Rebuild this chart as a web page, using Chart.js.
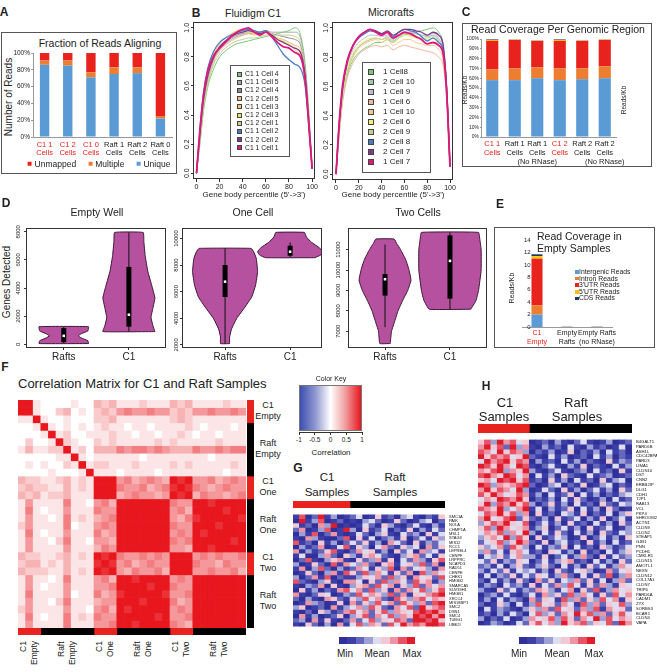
<!DOCTYPE html>
<html>
<head>
<meta charset="utf-8">
<title>Figure</title>
<script src="https://cdn.jsdelivr.net/npm/chart.js@4.4.1/dist/chart.umd.min.js"></script>
<style>
  body { margin: 0; background: #fff; }
  #page { position: relative; width: 657px; height: 672px; overflow: hidden; font-family: 'Liberation Sans', Arial, sans-serif; color: #222; }
  #page canvas { position: absolute; }
  .t { position: absolute; white-space: nowrap; line-height: 1; }
  .frame { position: absolute; border: 1px solid #555; box-sizing: border-box; }
</style>
</head>
<body>
<div id="page"></div>
<script>
// ---------- A: fraction of reads aligning ----------
const alignCats = [['C1 1', 'Cells'], ['C1 2', 'Cells'], ['C1 0', 'Cells'], ['Raft 1', 'Cells'], ['Raft 2', 'Cells'], ['Raft 0', 'Cells']];
const alignNames = ['Unmapped', 'Multiple', 'Unique'];
const alignUnmapped = [9, 9, 23, 17, 17, 75];
const alignMultiple = [5, 6, 6, 8, 7, 3];
const alignUnique = [86, 85, 71, 75, 76, 22];
const percentTicks = [0, 10, 20, 30, 40, 50, 60, 70, 80, 90, 100];

// ---------- B: gene body coverage ----------
const bodyPct = [0, 3, 6, 10, 15, 20, 25, 30, 35, 40, 45, 50, 55, 60, 65, 70, 75, 80, 85, 90, 94, 97, 100];
const pctTicks = [0, 20, 40, 60, 80, 100];
const coverTicks = [0, 0.2, 0.4, 0.6, 0.8, 1.0];
const c1Names = ['C1 1 Cell 4', 'C1 1 Cell 5', 'C1 2 Cell 4', 'C1 2 Cell 5', 'C1 1 Cell 3', 'C1 2 Cell 3', 'C1 2 Cell 1', 'C1 1 Cell 2', 'C1 2 Cell 2', 'C1 1 Cell 1'];
const c1Curves = [
  [0, .2, .42, .6, .72, .8, .84, .87, .89, .9, .91, .92, .93, .94, .95, .96, .97, .98, 1.0, .95, .75, .45, .03],
  [0, .25, .47, .65, .78, .85, .89, .92, .94, .95, .96, .96, .97, .98, .97, .97, .97, .97, .97, .93, .72, .4, .03],
  [0, .26, .48, .66, .79, .86, .9, .93, .95, .96, .97, .96, .97, .98, .96, .95, .94, .93, .92, .88, .7, .38, .03],
  [0, .24, .46, .64, .77, .84, .88, .91, .93, .95, .96, .95, .96, .97, .95, .93, .92, .9, .88, .85, .68, .38, .03],
  [0, .28, .52, .7, .82, .89, .93, .96, .98, .99, .98, .96, .97, .98, .96, .93, .9, .88, .85, .8, .65, .36, .03],
  [0, .27, .5, .68, .8, .87, .91, .94, .96, .97, .97, .96, .96, .97, .95, .93, .91, .89, .87, .82, .66, .37, .03],
  [0, .22, .44, .62, .75, .82, .86, .89, .91, .92, .93, .93, .94, .95, .95, .95, .95, .95, .94, .9, .7, .4, .03],
  [0, .3, .55, .73, .84, .9, .93, .95, .97, .98, .99, .98, .97, .98, .94, .88, .82, .78, .75, .72, .6, .34, .03],
  [0, .27, .5, .68, .8, .87, .91, .94, .96, .97, .98, .97, .96, .97, .95, .92, .9, .88, .86, .83, .67, .37, .03],
  [0, .3, .53, .71, .81, .86, .9, .94, .97, .99, 1.0, .97, .95, .97, .94, .9, .87, .86, .83, .8, .64, .35, .03]
];
const raftNames = ['1 Cell8', '2 Cell 10', '1 Cell 9', '1 Cell 6', '1 Cell 10', '2 Cell 6', '2 Cell 9', '2 Cell 8', '2 Cell 7', '1 Cell 7'];
const raftCurves = [
  [0, .3, .52, .68, .78, .83, .86, .88, .9, .9, .92, .9, .93, .95, .96, .97, .98, .99, 1.0, .97, .88, .6, .05],
  [0, .32, .55, .72, .82, .87, .9, .92, .93, .92, .94, .91, .94, .96, .96, .96, .95, .94, .95, .92, .84, .58, .05],
  [0, .33, .57, .74, .85, .9, .93, .95, .95, .94, .95, .92, .95, .97, .97, .96, .95, .95, .96, .93, .85, .58, .05],
  [0, .28, .5, .66, .76, .82, .85, .87, .88, .87, .88, .85, .87, .88, .87, .86, .85, .84, .83, .8, .74, .52, .05],
  [0, .3, .53, .7, .8, .86, .89, .91, .92, .9, .92, .88, .9, .92, .92, .9, .89, .88, .88, .85, .78, .55, .05],
  [0, .31, .55, .72, .83, .88, .91, .93, .93, .92, .93, .9, .93, .95, .94, .93, .92, .92, .93, .9, .82, .57, .05],
  [0, .3, .53, .7, .81, .87, .9, .92, .93, .92, .93, .9, .93, .96, .95, .94, .93, .93, .94, .91, .83, .57, .05],
  [0, .36, .6, .77, .88, .93, .96, .98, .97, .96, .97, .94, .97, .99, .98, .97, .94, .91, .93, .9, .84, .58, .05],
  [0, .36, .6, .77, .88, .94, .97, .99, .98, .96, .98, .95, .97, .99, .99, .98, .97, .95, .97, .95, .88, .6, .05],
  [0, .37, .62, .78, .88, .94, .97, .99, .97, .95, .97, .93, .95, .97, .96, .94, .92, .89, .9, .88, .82, .56, .05]
];

// ---------- C / E: read coverage per genomic region ----------
const regionNames = ['Intergenic Reads', 'Intron Reads', "3'UTR Reads", "5'UTR Reads", 'CDS Reads'];
const regionCats = [['C1 1', 'Cells'], ['Raft 1', 'Cells'], ['Raft 1', 'Cells', '(No RNase)'], ['C1 2', 'Cells'], ['Raft 2', 'Cells'], ['Raft 2', 'Cells', '(No RNase)']];
const regionIntergenic = [58, 58, 60, 58, 59, 60];
const regionIntron = [11, 12, 11, 12, 11, 12];
const region3utr = [29, 29, 27, 28, 28, 27];
const region5utr = [1, 0.3, 0.3, 1, 0.3, 0.3];
const regionCds = [0.6, 0.3, 0.3, 0.6, 0.3, 0.3];
const emptyCats = [['C1', 'Empty'], ['Empty', 'Rafts'], ['Empty Rafts', '(no RNase)']];
const emptyIntergenic = [2.0, 0.03, 0.04];
const emptyIntron = [1.5, 0.01, 0.01];
const empty3utr = [7.5, 0.03, 0.03];
const empty5utr = [0.4, 0, 0];
const emptyCds = [0.3, 0.01, 0.01];
const readsTicks = [0, 2, 4, 6, 8, 10, 12, 14];

// ---------- D: genes detected (violins: [genes, half width]) ----------
const violinCats = ['Rafts', 'C1'];
const emptyRaftsShape = [[50, .38], [250, .37], [450, .27], [600, .22], [750, .27], [950, .37], [1250, .38]];
const emptyRaftsStats = [50, 150, 600, 1150, 1250];
const emptyC1Shape = [[900, .4], [1300, .37], [1900, .34], [2600, .37], [3300, .4], [4200, .35], [5200, .29], [6300, .25], [7300, .23], [7950, .22]];
const emptyC1Stats = [900, 1250, 2100, 5500, 7950];
const oneRaftsShape = [[2100, .07], [2600, .07], [3200, .1], [4000, .18], [4800, .3], [5600, .41], [6500, .47], [7500, .5], [8500, .48], [9000, .44], [9250, .4]];
const oneRaftsStats = [2100, 5600, 6750, 8000, 9250];
const oneC1Shape = [[8550, .38], [8750, .47], [9000, .5], [9300, .45], [9700, .33], [10100, .25], [10450, .22]];
const oneC1Stats = [8600, 8700, 9000, 9450, 9700];
const twoRaftsShape = [[6400, .08], [7000, .1], [7500, .15], [8000, .2], [8500, .27], [9000, .35], [9500, .4], [10000, .37], [10500, .32], [11000, .24], [11300, .18], [11520, .14]];
const twoRaftsStats = [7200, 8750, 9550, 9800, 11250];
const twoC1Shape = [[8080, .32], [8500, .4], [9000, .44], [10000, .48], [11000, .48], [11500, .46], [11845, .44]];
const twoC1Stats = [8080, 8600, 10450, 11700, 11845];
const emptyTicks = [0, 2000, 4000, 6000, 8000];
const oneTicks = [2000, 4000, 6000, 8000, 10000];
const twoTicks = [7000, 8000, 9000, 10000, 11000];

// ---------- F: correlation matrix (0 = none ... 9 = full) ----------
const corrGroups = ['C1 Empty', 'Raft Empty', 'C1 One', 'Raft One', 'C1 Two', 'Raft Two'];
const corrGroupSizes = [3, 7, 3, 7, 3, 7];
const corrRows = [
  '9910000100 323 1112111 323 1111211',
  '9910023010 232 4544544 232 4454454',
  '1191001000 223 1111111 232 1111111',
  '0019101010 121 1011011 112 1011101',
  '0001912001 112 1101101 121 0110111',
  '0200192100 212 1111121 211 1112111',
  '1311229120 333 5455454 333 5445455',
  '0000011910 111 1110111 111 1101111',
  '0101002191 221 1121111 212 1111121',
  '0000100019 111 0111101 111 1111011',
  '3221123121 999 4534543 989 4453454',
  '2322113121 999 5445345 898 5434544',
  '3231223111 999 3454434 989 3544345',
  '1411115110 453 9999999 544 9989999',
  '1510114111 544 9999999 453 9999899',
  '1411015121 345 9999999 435 8999998',
  '2411115011 454 9999999 544 9998999',
  '1510114111 534 9999999 454 9899999',
  '1411025110 443 9999999 545 9999989',
  '1411114111 354 9999999 443 9989999',
  '3221123121 989 5445454 999 4545445',
  '2331213111 898 4534544 999 5443544',
  '3222113121 989 4354453 999 4454453',
  '1411015111 453 9989999 454 9999999',
  '1410114111 445 9999899 544 9999999',
  '1511114011 534 8999998 445 9999999',
  '1411025111 344 9998999 534 9999999',
  '2411114110 453 9899999 454 9999999',
  '1510115121 544 9999989 445 9999999',
  '1411115111 445 9989999 543 9999999'
];

// ---------- G / H: expression heatmaps (0 = min ... 4 = mean ... 8 = max) ----------
const sampleGroups = ['C1', 'Raft'];
const gSamples = [9, 15];
const genesG = ['SMC1A', 'PAIK', 'NOLA', 'CHMP1A', 'MSL1', 'STAG3', 'MIS12', 'RCC1', 'LEPREL4', 'CENPF', 'LRPPRC', 'NCAPD3', 'RAD51', 'CENPE', 'CHEK1', 'HMGB2', 'SMARCA5', 'SUV39H1', 'HMGB1', 'XRCC4', 'MIS18BP1', 'SMC2', 'DSN1', 'SMC4', 'TUBG1', 'UBE2I'];
const heatG = [
  '170281301 240151203410215', '081370120 103420152013402', '512063801 014205310241031', '260137018 305124021503142',
  '031702610 142035104230514', '106310027 051402315024153', '712051302 425130642051324', '031260147 153046215340625',
  '603125710 264513052406341', '140036205 315642103562415', '027103561 052361504263157', '301520716 436205614537260',
  '160372031 264153706245316', '015203617 527364152607364', '302617021 135462735164527', '721035106 640527364275613',
  '103260510 356274615372646', '051302167 462735162647357', '610254013 274653726154678', '203106521 537462175367465',
  '016320150 625374627536278', '350120613 463752164728567', '102053126 746257365478786', '061301250 357264736587868',
  '230615102 624735476288785', '105203061 473652748676887'
];
const hSamples = [8, 16];
const genesH = ['B4GALT1', 'PARD6B', 'ASH1L', 'CDC42BPA', 'PARD3', 'LIMA1', 'CLDN10', 'DST', 'CNN2', 'ERBB2IP', 'DLG1', 'CDH1', 'TJP1', 'RAB13', 'VCL', 'PKP4', 'SHROOM2', 'ACTN1', 'CLDN9', 'CLDN2', 'STEAP1', 'GJB1', 'PNN', 'PCDH1', 'CMKLR1', 'CLDN15', 'AMOTL1', 'NEXN', 'CLDN12', 'COL17A1', 'CLDN7', 'TRIP6', 'PARD6A', 'CADM1', 'ZYX', 'SORBS3', 'BCAR1', 'CLDN4', 'VAPA'];
const heatH = [
  '57386745 0120310241013012', '68572836 1031204103120140', '76485763 0213015021304120', '85767458 2104130120413021',
  '48678576 0312041302105132', '87586487 1024103150210413', '65783658 3102410230412051', '78658746 0413052104123012',
  '56487857 1205130412051340', '87365678 2013402150134021', '68576483 0142051302413052', '75864576 1304125041302134',
  '46587685 0213041520130412', '58376857 3025130412052143', '76583468 1403125041305201', '47685736 0512043150214035',
  '68457825 2130512403150241', '35768547 0241305120413052', '57386456 1350241305124013', '46573648 3041520413052143',
  '35648375 0512430150241305', '24573586 2150341205130412', '53462753 0413250412053124', '36241564 1205413051204135',
  '14352463 3150241362051423', '42513254 0241356120413052', '23140352 1352041305241364', '31425143 4130521453016245',
  '14032514 2541362041527136', '20413152 0625143625140362', '13204231 5142637415263154', '31052413 2653146052713645',
  '02314102 4163527364152746', '13041320 6254173625374615', '20153041 3745264173625473', '04132103 5362745263716452',
  '12031420 4735264857362574', '30214013 6457375264837465', '01320142 5746385673547286'
];

// ---------- styles ----------
const RED = '#e8221c';
const alignColors = [RED, '#ed7d31', '#5b9bd5'];
const regionColors = ['#5b9bd5', '#ed7d31', RED, '#ffc000', '#1f3864'];
const c1Colors = ['#7cc87a', '#a8a8a8', '#8e8e8e', '#f2b59a', '#f9c46a', '#e6e46a', '#c2cf94', '#4a7dc4', '#7a3b8f', '#e0187a'];
const raftColors = ['#7cc87a', '#9fc5ac', '#c3bcd0', '#f2b59a', '#f9c98a', '#f2ee80', '#c2cf94', '#4a7dc4', '#7a3b8f', '#e0187a'];
const curveWidths = [1, 1, 1, 1, 1, 1, 1, 1.3, 1.3, 1.8];
const heatPalette = ['#30309a', '#3c3fa7', '#6467bc', '#9ea1d5', '#dedcef', '#f2c8d5', '#ee95a5', '#e85265', '#e01c2b'];
const groupColor = name => name.startsWith('C1') ? RED : '#000';
const catColor = lab => (Array.isArray(lab) ? lab[0] : lab).startsWith('C1') ? RED : '#222';
const corrColor = lv => {
  const f = lv / 9;
  return `rgb(${Math.round(255 - 23 * f)},${Math.round(255 - 232 * f)},${Math.round(255 - 226 * f)})`;
};

Chart.defaults.font.family = "'Liberation Sans', Arial, sans-serif";
Chart.defaults.color = '#222';
Chart.defaults.animation = false;
Chart.defaults.responsive = false;
Chart.defaults.devicePixelRatio = 1;
Chart.defaults.plugins.legend.display = false;
Chart.defaults.plugins.tooltip.enabled = false;

const page = document.getElementById('page');
function canvasAt(l, t, w, h) {
  const c = document.createElement('canvas');
  c.width = w; c.height = h;
  Object.assign(c.style, {left: l + 'px', top: t + 'px', width: w + 'px', height: h + 'px'});
  page.appendChild(c);
  return c;
}
function label(html, x, y, size, extra) {
  const d = document.createElement('div');
  d.className = 't';
  d.innerHTML = html;
  Object.assign(d.style, {left: x + 'px', top: y + 'px', fontSize: size + 'px', transform: 'translate(-50%,-50%)'}, extra || {});
  page.appendChild(d);
  return d;
}
const rot = {transform: 'translate(-50%,-50%) rotate(-90deg)'};
const bold = {fontWeight: 'bold'};
function box(l, t, w, h) {
  const d = document.createElement('div');
  d.className = 'frame';
  Object.assign(d.style, {left: l + 'px', top: t + 'px', width: w + 'px', height: h + 'px'});
  page.appendChild(d);
}
const fixW = w => s => { s.width = w; };
const fixH = h => s => { s.height = h; };
const setTicks = arr => s => { s.ticks = arr.map(v => ({value: v})); };

// box around the plotting area (R style)
const framePlugin = {
  id: 'frame',
  afterDatasetsDraw(chart) {
    const a = chart.chartArea, ctx = chart.ctx;
    ctx.save();
    ctx.strokeStyle = '#333';
    ctx.lineWidth = 1;
    ctx.strokeRect(Math.round(a.left) + .5, Math.round(a.top) + .5, Math.round(a.right - a.left) - 1, Math.round(a.bottom - a.top) - 1);
    ctx.restore();
  }
};

// ================= A =================
box(1, 32, 176, 142);
label('A', 4, 12, 12, bold);
label('Fraction of Reads Aligning', 100, 43, 10.5);
label('Number of Reads', 9, 97, 10, rot);
new Chart(canvasAt(3, 33, 172, 128), {
  type: 'bar',
  data: {
    labels: alignCats,
    datasets: [
      {label: alignNames[2], data: alignUnique, backgroundColor: alignColors[2]},
      {label: alignNames[1], data: alignMultiple, backgroundColor: alignColors[1]},
      {label: alignNames[0], data: alignUnmapped, backgroundColor: alignColors[0]}
    ]
  },
  options: {
    layout: {padding: {left: 0, top: 20, right: 3, bottom: 0}},
    datasets: {bar: {barPercentage: 0.45, categoryPercentage: 0.9}},
    scales: {
      x: {stacked: true, grid: {display: false, drawTicks: false}, border: {color: '#999'},
          ticks: {font: {size: 7.5, lineHeight: 1.1}, padding: 4, maxRotation: 0, autoSkip: false, color: c => catColor(alignCats[c.index])},
          afterFit: fixH(24)},
      y: {stacked: true, min: 0, max: 100, afterBuildTicks: setTicks(percentTicks),
          grid: {drawOnChartArea: false, tickLength: 2, color: '#999'}, border: {color: '#999'},
          ticks: {font: {size: 6.5}, padding: 1, callback: v => v + '%'},
          afterFit: fixW(30)}
    }
  }
});
(() => {
  const leg = document.createElement('div');
  leg.className = 't';
  Object.assign(leg.style, {left: '99px', top: '164px', transform: 'translate(-50%,-50%)', display: 'flex', gap: '12px', fontSize: '8.5px', alignItems: 'center'});
  alignNames.forEach((n, i) => {
    leg.innerHTML += `<span style="display:flex;align-items:center;gap:3px"><i style="display:inline-block;width:4px;height:4px;background:${alignColors[i]}"></i>${n}</span>`;
  });
  page.appendChild(leg);
})();

// ================= B =================
label('B', 196, 13, 12, bold);
label('Fluidigm C1', 253, 13, 10.5);
label('Microrafts', 391, 12, 10.5);
label("Gene body percentile (5'-&gt;3')", 254, 195, 8);
label("Gene body percentile (5'-&gt;3')", 393, 195, 8);

function curveSets(curves, colors) {
  return curves.map((ys, i) => ({
    data: ys.map((y, j) => ({x: bodyPct[j], y})),
    borderColor: colors[i], borderWidth: curveWidths[i], pointRadius: 0,
    cubicInterpolationMode: 'monotone', fill: false, order: curves.length - i
  }));
}
function bodyChart(canvas, curves, colors, yW, padR, xH, xMin, xMax) {
  new Chart(canvas, {
    type: 'line',
    data: {datasets: curveSets(curves, colors)},
    options: {
      layout: {padding: {left: 0, top: 6, right: padR, bottom: 0}},
      scales: {
        x: {type: 'linear', min: xMin, max: xMax, afterBuildTicks: setTicks(pctTicks),
            ticks: {font: {size: 7}, padding: 1, callback: v => String(v)},
            grid: {drawOnChartArea: false, tickLength: 3, color: '#333'}, border: {display: false}, afterFit: fixH(xH)},
        y: {min: -0.04, max: 1.04, afterBuildTicks: setTicks(coverTicks),
            ticks: {font: {size: 7}, minRotation: 90, maxRotation: 90, crossAlign: 'center', padding: -1.4, callback: v => v.toFixed(1)},
            grid: {drawOnChartArea: false, tickLength: 2, color: '#333'}, border: {display: false}, afterFit: fixW(yW)}
      }
    },
    plugins: [framePlugin]
  });
}
bodyChart(canvasAt(176, 16, 144, 180), c1Curves, c1Colors, 17, 5, 17, -3, 102.5);
bodyChart(canvasAt(318, 16, 140, 180), raftCurves, raftColors, 14, 5, 16, -3.5, 102.6);

function curveLegend(l, t, w, h, names, colors, font, first, step, swX, txX, sw) {
  box(l, t, w, h);
  names.forEach((n, i) => {
    const y = first + i * step;
    const s = document.createElement('div');
    Object.assign(s.style, {position: 'absolute', left: (swX - sw / 2) + 'px', top: (y - sw / 2) + 'px', width: sw + 'px', height: sw + 'px',
      background: colors[i], border: '1px solid #444', boxSizing: 'border-box'});
    page.appendChild(s);
    label(n, txX, y, font, {transform: 'translate(0,-50%)'});
  });
}
curveLegend(230, 65, 60, 92, c1Names, c1Colors, 6.8, 74, 8.2, 239, 245, 5);
curveLegend(362, 62, 69, 111, raftNames, raftColors, 8, 71.5, 10.1, 371, 383, 6);

// ================= C =================
label('C', 466, 12, 12, bold);
box(462, 23, 190, 144);
label('Read Coverage Per Genomic Region', 558, 29, 10.5);
label('Reads/Kb', 465, 90, 6.5, rot);
label('Reads/Kb', 624, 100, 6.5, rot);
const regionSeries = [regionIntergenic, regionIntron, region3utr, region5utr, regionCds];
new Chart(canvasAt(463, 35, 188, 131), {
  type: 'bar',
  data: {labels: regionCats, datasets: regionNames.map((n, i) => ({label: n, data: regionSeries[i], backgroundColor: regionColors[i]}))},
  options: {
    layout: {padding: {left: 0, top: 3, right: 35, bottom: 0}},
    datasets: {bar: {barPercentage: 0.6, categoryPercentage: 0.9}},
    scales: {
      x: {stacked: true, grid: {display: false, drawTicks: false}, border: {color: '#999'},
          ticks: {font: {size: 7.5, lineHeight: 1.15}, padding: 3, maxRotation: 0, autoSkip: false, color: c => catColor(regionCats[c.index])},
          afterFit: fixH(29)},
      y: {stacked: true, min: 0, max: 100, afterBuildTicks: setTicks(percentTicks),
          grid: {drawOnChartArea: false, tickLength: 1, color: '#999'}, border: {color: '#999'},
          ticks: {font: {size: 5}, padding: 1, callback: v => v + '%'}, afterFit: fixW(18)}
    }
  }
});

// ================= D =================
label('D', 6, 203, 12, bold);
label('Empty Well', 97, 212, 10.5);
label('One Cell', 253, 212, 10.5);
label('Two Cells', 418, 212, 10.5);
label('Genes Detected', 7, 282, 10, rot);

function violinSets(center, shape, stats) {
  const right = shape.map(([y, w]) => ({x: center + w, y}));
  const left = shape.slice().reverse().map(([y, w]) => ({x: center - w, y}));
  return [
    {data: right.concat(left, [right[0]]), showLine: true, fill: 'shape', backgroundColor: '#b6519f', borderColor: '#3a1535',
     borderWidth: 1, pointRadius: 0, tension: 0.1, order: 4},
    {data: [{x: center, y: stats[0]}, {x: center, y: stats[4]}], showLine: true, borderColor: '#111', borderWidth: 1, pointRadius: 0, order: 3},
    {data: [{x: center, y: stats[1]}, {x: center, y: stats[3]}], showLine: true, borderColor: '#000', borderWidth: 5, borderCapStyle: 'butt', pointRadius: 0, order: 2},
    {data: [{x: center, y: stats[2]}], pointStyle: 'rect', pointRadius: 1.8, backgroundColor: '#fff', borderWidth: 0, order: 1}
  ];
}
function violinChart(canvas, padR, xMin, xMax, yMin, yMax, yTicks, yPad, sets) {
  new Chart(canvas, {
    type: 'scatter',
    data: {datasets: sets},
    options: {
      layout: {padding: {left: 0, top: 3, right: padR, bottom: 0}},
      scales: {
        x: {type: 'linear', min: xMin, max: xMax, afterBuildTicks: setTicks(violinCats.map((_, i) => i + 1)),
            ticks: {font: {size: 10}, padding: 1, callback: v => violinCats[v - 1]},
            grid: {drawOnChartArea: false, tickLength: 2, color: '#333'}, border: {display: false}, afterFit: fixH(16)},
        y: {min: yMin, max: yMax, afterBuildTicks: setTicks(yTicks),
            ticks: {font: {size: 6}, minRotation: 90, maxRotation: 90, crossAlign: 'center', padding: yPad, callback: v => String(v)},
            grid: {drawOnChartArea: false, tickLength: 2, color: '#333'}, border: {display: false}, afterFit: fixW(14)}
      }
    },
    plugins: [framePlugin]
  });
}
violinChart(canvasAt(12, 224, 158, 140), 3, 0.42, 2.57, -266, 8266, emptyTicks, -0.7,
  violinSets(1, emptyRaftsShape, emptyRaftsStats).concat(violinSets(2, emptyC1Shape, emptyC1Stats)));
violinChart(canvasAt(168, 224, 158, 140), 4, 0.338, 2.49, 1770, 10780, oneTicks, -4.3,
  violinSets(1, oneRaftsShape, oneRaftsStats).concat(violinSets(2, oneC1Shape, oneC1Stats)));
violinChart(canvasAt(334, 224, 158, 140), 5, 0.43, 2.57, 6180, 12060, twoTicks, -0.3,
  violinSets(1, twoRaftsShape, twoRaftsStats).concat(violinSets(2, twoC1Shape, twoC1Stats)));

// ================= E =================
label('E', 500, 204, 12, bold);
box(494, 227, 161, 121);
label('Read Coverage in', 537, 236, 10.5, {transform: 'translate(0,-50%)'});
label('Empty Samples', 537, 248, 10.5, {transform: 'translate(0,-50%)'});
label('Reads/Kb', 511, 288, 7, rot);
const emptySeries = [emptyIntergenic, emptyIntron, empty3utr, empty5utr, emptyCds];
new Chart(canvasAt(495, 228, 159, 119), {
  type: 'bar',
  data: {labels: emptyCats, datasets: regionNames.map((n, i) => ({label: n, data: emptySeries[i], backgroundColor: regionColors[i]}))},
  options: {
    layout: {padding: {left: 0, top: 12, right: 42, bottom: 0}},
    datasets: {bar: {barPercentage: 0.4, categoryPercentage: 0.92}},
    scales: {
      x: {stacked: true, grid: {display: false, drawTicks: false}, border: {color: '#999'},
          ticks: {font: {size: 7, lineHeight: 1.2}, padding: 2, maxRotation: 0, autoSkip: false, color: c => catColor(emptyCats[c.index])},
          afterFit: fixH(20)},
      y: {stacked: true, min: 0, max: 14, afterBuildTicks: setTicks(readsTicks),
          grid: {display: false}, border: {display: false},
          ticks: {mirror: true, crossAlign: 'far', padding: 2, font: {size: 6}, callback: v => String(v)}, afterFit: fixW(27)}
    }
  }
});
regionNames.forEach((n, i) => {
  const y = 272 + i * 6.6;
  const s = document.createElement('div');
  Object.assign(s.style, {position: 'absolute', left: '575px', top: (y - 1.8) + 'px', width: '3.5px', height: '3.5px', background: regionColors[i]});
  page.appendChild(s);
  label(n, 579, y, 6.8, {transform: 'translate(0,-50%)'});
});

// ================= F =================
label('F', 5, 367, 12, bold);
label('Correlation Matrix for C1 and Raft Samples', 18, 383, 13, {transform: 'translate(0,-50%)'});
function heatChart(canvas, rows, colorOf, genes, geneW, genePad, geneFont) {
  const cells = rows.map(r => r.replace(/ /g, ''));
  const nCols = cells[0].length;
  const scales = {
    x: {stacked: true, display: false},
    y: {stacked: true, display: false, reverse: true, min: 0, max: cells.length}
  };
  if (genes) {
    scales.g = {type: 'category', labels: genes, position: 'right', offset: true,
      grid: {display: false, drawTicks: false}, border: {display: false},
      ticks: {autoSkip: false, font: {size: geneFont}, padding: genePad, color: '#111'}, afterFit: fixW(geneW)};
  }
  new Chart(canvas, {
    type: 'bar',
    data: {
      labels: Array.from({length: nCols}, (_, i) => String(i + 1)),
      datasets: cells.map(r => ({
        data: Array.from(r, () => 1),
        backgroundColor: Array.from(r, ch => colorOf(parseInt(ch, 10))),
        borderWidth: 0, barPercentage: 1, categoryPercentage: 1
      }))
    },
    options: {layout: {padding: 0}, scales}
  });
}
function groupBar(canvas, sizes, colors, horizontal) {
  const total = sizes.reduce((a, b) => a + b, 0);
  new Chart(canvas, {
    type: 'bar',
    data: {labels: [''], datasets: sizes.map((n, i) => ({data: [n], backgroundColor: colors[i], borderWidth: 0, barPercentage: 1, categoryPercentage: 1}))},
    options: {
      indexAxis: horizontal ? 'y' : 'x',
      layout: {padding: 0},
      scales: horizontal
        ? {x: {stacked: true, display: false, min: 0, max: total}, y: {stacked: true, display: false}}
        : {x: {stacked: true, display: false}, y: {stacked: true, display: false, reverse: true, min: 0, max: total}}
    }
  });
}
heatChart(canvasAt(18, 400, 228, 228), corrRows, corrColor);
groupBar(canvasAt(247, 400, 7, 228), corrGroupSizes, corrGroups.map(groupColor), false);
groupBar(canvasAt(18, 628, 228, 7), corrGroupSizes, corrGroups.map(groupColor), true);
(() => {
  const cell = 228 / corrRows.length;
  let cum = 0;
  corrGroups.forEach((g, i) => {
    const mid = cum + corrGroupSizes[i] / 2;
    cum += corrGroupSizes[i];
    label(g.split(' ').join('<br>'), 268, 400 + mid * cell, 9, {lineHeight: '11px', textAlign: 'center'});
    const d = document.createElement('div');
    d.className = 't';
    d.innerHTML = g.split(' ').join('<br>');
    Object.assign(d.style, {left: (18 + mid * cell) + 'px', top: '641px', fontSize: '8.5px', lineHeight: '11px', height: '26px',
      writingMode: 'vertical-rl', textAlign: 'end', transform: 'translateX(-50%) rotate(180deg)'});
    page.appendChild(d);
  });
})();

// color key
label('Color Key', 331, 378, 7);
(() => {
  const g = document.createElement('div');
  Object.assign(g.style, {position: 'absolute', left: '299px', top: '385px', width: '63px', height: '46px',
    background: 'linear-gradient(to right, #3d4fb0, #8f97d0 25%, #ffffff 50%, #f09a9c 75%, #e6161d)', border: '1px solid #777', boxSizing: 'border-box'});
  page.appendChild(g);
  const ax = document.createElement('div');
  Object.assign(ax.style, {position: 'absolute', left: '299px', top: '432px', width: '63px', height: '0', borderTop: '1px solid #333'});
  page.appendChild(ax);
  [-1, -0.5, 0, 0.5, 1].forEach(v => {
    const x = 299 + (v + 1) / 2 * 63;
    const tk = document.createElement('div');
    Object.assign(tk.style, {position: 'absolute', left: (x - 0.5) + 'px', top: '432px', width: '1px', height: '3px', background: '#333'});
    page.appendChild(tk);
    label(String(v), x, 440, 6.5);
  });
})();
label('Correlation', 331, 453, 8);

// ================= G =================
label('G', 298, 468, 12, bold);
label('C1', 327, 478, 11.5);
label('Samples', 327, 493, 11.5);
label('Raft', 395, 478, 11.5);
label('Samples', 395, 493, 11.5);
groupBar(canvasAt(293, 501, 152, 7), gSamples, sampleGroups.map(groupColor), true);
heatChart(canvasAt(293, 508, 190, 125), heatG, lv => heatPalette[lv], genesG, 38, 4, 4);

// ================= H =================
label('H', 486, 386, 12, bold);
label('C1', 505, 402, 13);
label('Samples', 504, 416, 13);
label('Raft', 576, 402, 13);
label('Samples', 577, 416, 13);
groupBar(canvasAt(478, 424, 154, 9), hSamples, sampleGroups.map(groupColor), true);
heatChart(canvasAt(478, 433, 179, 199), heatH, lv => heatPalette[lv], genesH, 25, 4, 4.2);

// min / mean / max keys
function stepKey(l, xs) {
  const k = document.createElement('div');
  Object.assign(k.style, {position: 'absolute', left: l + 'px', top: '637px', width: '76px', height: '7px', display: 'flex'});
  heatPalette.forEach(c => { k.innerHTML += `<i style="flex:1;background:${c}"></i>`; });
  page.appendChild(k);
  ['Min', 'Mean', 'Max'].forEach((s, i) => label(s, xs[i], 654, 10));
}
stepKey(339, [345, 377, 412]);
stepKey(519, [519, 557, 594]);
</script>
</body>
</html>
